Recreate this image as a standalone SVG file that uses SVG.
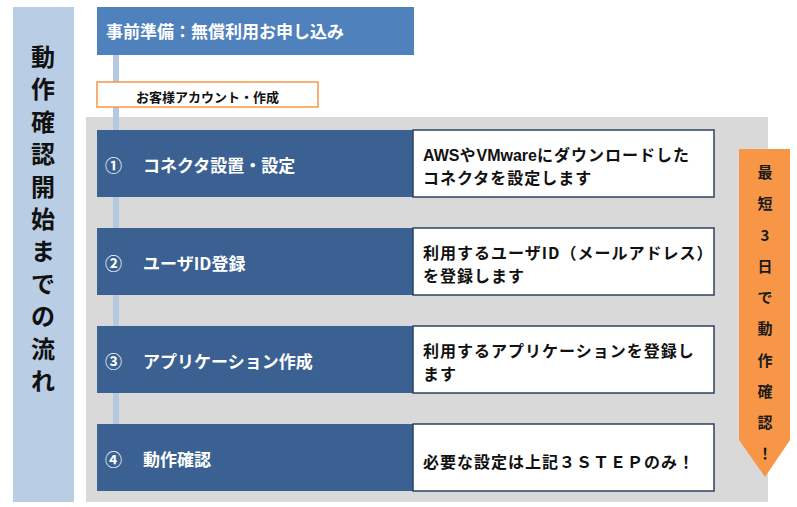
<svg xmlns="http://www.w3.org/2000/svg" width="797" height="507" viewBox="0 0 797 507">
<style>
text{font-family:"Noto Sans CJK JP","Noto Sans",sans-serif;font-weight:bold}
.side{font-size:24px;fill:#111;text-anchor:middle;dominant-baseline:central}
.hdr{font-size:17px;fill:#fff}
.acc{font-size:13px;fill:#111;text-anchor:middle}
.stepbox{fill:#3a6191}
.descbox{fill:#fff;stroke:#2b4162;stroke-width:1.5}
.st{font-size:17px;fill:#fff}
.ds{font-size:16px;fill:#111;letter-spacing:1px}
.lat{font-family:"Liberation Sans",Arial,sans-serif;letter-spacing:0}
.ora{font-size:15px;fill:#1a1a1a;text-anchor:middle;dominant-baseline:central}
</style>
<rect width="797" height="507" fill="#fff"/>
<g id="sidebar">
<rect x="13" y="7" width="61" height="495" fill="#b9cde5"/>
<text class="side"><tspan x="43" y="55">動</tspan><tspan x="43" y="87.4">作</tspan><tspan x="43" y="119.8">確</tspan><tspan x="43" y="152.2">認</tspan><tspan x="43" y="184.6">開</tspan><tspan x="43" y="217">始</tspan><tspan x="43" y="249.4">ま</tspan><tspan x="43" y="281.8">で</tspan><tspan x="43" y="314.2">の</tspan><tspan x="43" y="346.6">流</tspan><tspan x="43" y="379">れ</tspan></text>
</g>
<g id="panel">
<rect x="86" y="117" width="682" height="385" fill="#d9d9d9"/>
</g>
<g id="connectors">
<line x1="116" y1="55" x2="116" y2="424" stroke="#b4c8e1" stroke-width="6"/>
</g>
<g id="header">
<rect x="97" y="7" width="317" height="48" fill="#4f81bd"/>
<text class="hdr" x="106" y="38">事前準備：無償利用お申し込み</text>
</g>
<g id="account">
<rect x="97" y="82" width="221" height="25" fill="#fff" stroke="#f79646" stroke-width="1.5"/>
<text class="acc" x="207.5" y="101.5">お客様アカウント・作成</text>
</g>
<g id="step1">
<rect class="stepbox" x="97" y="130" width="317" height="67"/>
<rect class="descbox" x="413" y="130" width="301" height="67"/>
<text class="st" y="172"><tspan x="105">①</tspan><tspan x="143">コネクタ設置・設定</tspan></text>
<text class="ds"><tspan x="423" y="160.5"><tspan class="lat">AWS</tspan>や<tspan class="lat">VMware</tspan>にダウンロードした</tspan><tspan x="423" y="183.5">コネクタを設定します</tspan></text>
</g>
<g id="step2">
<rect class="stepbox" x="97" y="228" width="317" height="67"/>
<rect class="descbox" x="413" y="228" width="301" height="67"/>
<text class="st" y="270"><tspan x="105">②</tspan><tspan x="143">ユーザID登録</tspan></text>
<text class="ds"><tspan x="423" y="258.5">利用するユーザID（メールアドレス）</tspan><tspan x="423" y="281.5">を登録します</tspan></text>
</g>
<g id="step3">
<rect class="stepbox" x="97" y="326" width="317" height="67"/>
<rect class="descbox" x="413" y="326" width="301" height="67"/>
<text class="st" y="368"><tspan x="105">③</tspan><tspan x="143">アプリケーション作成</tspan></text>
<text class="ds"><tspan x="423" y="356.5">利用するアプリケーションを登録し</tspan><tspan x="423" y="379.5">ます</tspan></text>
</g>
<g id="step4">
<rect class="stepbox" x="97" y="424" width="317" height="67"/>
<rect class="descbox" x="413" y="424" width="301" height="67"/>
<text class="st" y="466"><tspan x="105">④</tspan><tspan x="143">動作確認</tspan></text>
<text class="ds" x="423" y="468">必要な設定は上記３ＳＴＥＰのみ！</text>
</g>
<g id="badge">
<polygon points="739,149 790,149 790,440 765,477 739,440" fill="#f79646"/>
<text class="ora"><tspan x="765" y="171">最</tspan><tspan x="765" y="202">短</tspan><tspan x="765" y="233.5">3</tspan><tspan x="765" y="265">日</tspan><tspan x="765" y="296">で</tspan><tspan x="765" y="327">動</tspan><tspan x="765" y="358.5">作</tspan><tspan x="765" y="389.5">確</tspan><tspan x="765" y="421">認</tspan><tspan x="765" y="452">！</tspan></text>
</g>
</svg>
